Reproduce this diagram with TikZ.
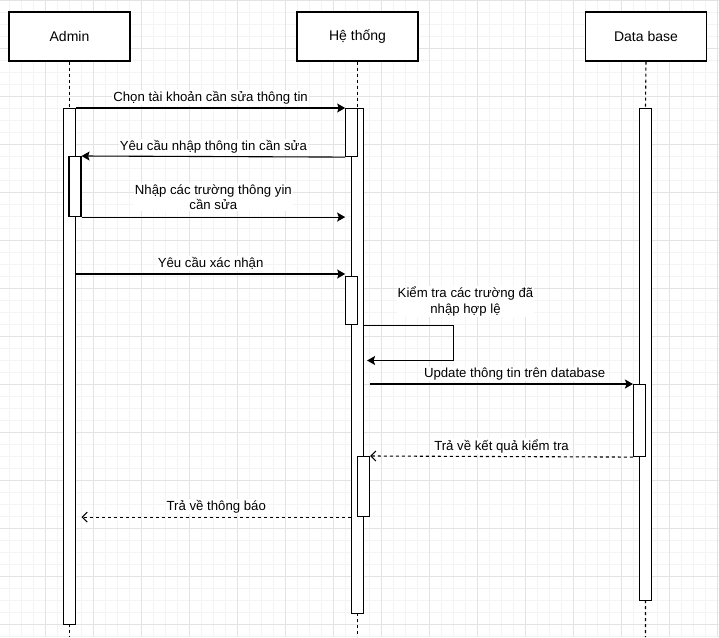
\documentclass[tikz,border=0pt]{standalone}
\usepackage{fontspec}
\setmainfont{Liberation Sans}
\usetikzlibrary{arrows.meta}
\definecolor{gridmin}{HTML}{F4F4F4}
\definecolor{gridmaj}{HTML}{E3E3E3}
\begin{document}
\begin{tikzpicture}[x=1pt, y=-1pt, line width=1.1pt,
		actor/.style={draw, fill=white, minimum width=121pt, minimum height=49pt, inner sep=0pt, font=\fontsize{14}{16}\selectfont},
		bar/.style={draw, fill=white, minimum width=12pt, inner sep=0pt, anchor=north},
		msg/.style={-{Stealth[length=8pt,width=9pt,inset=1.5pt]}},
		reply/.style={dash pattern=on 3pt off 3pt, -{Straight Barb[length=5pt,width=10pt]}},
		lbl/.style={fill=white, inner sep=1pt, anchor=base, yshift=6.5pt, font=\fontsize{13.2}{15.5}\selectfont, align=center}]
	\useasboundingbox (0,0) rectangle (719,637);
	% grid
	\begin{scope}[line width=0.8pt]
		\clip (0,0) rectangle (719,637);
		\foreach \x in {-3,9,...,717} \draw[gridmin] (\x,0) -- (\x,637);
		\foreach \y in {0,12,...,636} \draw[gridmin] (0,\y) -- (719,\y);
		\foreach \x in {-3,45,...,717} \draw[gridmaj] (\x,0) -- (\x,637);
		\foreach \y in {0,48,...,624} \draw[gridmaj] (0,\y) -- (719,\y);
	\end{scope}
	% actors
	\node[actor] (admin) at (69.5,36.5) {Admin};
	\node[actor] (hethong) at (357.5,36.5) {Hệ thống};
	\node[actor] (db) at (646,36.5) {Data base};
	\coordinate (endA) at (69.5,637);
	\coordinate (endH) at (357.5,637);
	\coordinate (endD) at (645.5,637);
	\coordinate (loopR) at (453.5,360.5);
	% lifelines
	\draw[dashed] (admin.south) -- (69.5,108) (69.5,624) -- (endA);
	\draw[dashed] (hethong.south) -- (357.5,108) (357.5,613) -- (endH);
	\draw[dashed] (db.south) -- (645.5,108) (645.5,600) -- (endD);
	% activation bars
	\node[bar, minimum height=516pt] (bA) at (69.5,108) {};
	\node[bar, minimum height=60pt] (sA) at (75,156) {};
	\node[bar, minimum height=505pt] (bH) at (357.5,108) {};
	\node[bar, minimum height=48pt] (sH1) at (351.7,108) {};
	\node[bar, minimum height=48pt] (sH2) at (351.7,276) {};
	\node[bar, minimum height=60pt] (sH3) at (363.5,456) {};
	\node[bar, minimum height=492pt] (bD) at (645.5,108) {};
	\node[bar, minimum height=72pt] (sD) at (639.5,384) {};
	% messages
	\draw[msg] (bA.north east) -- node[lbl] {Chọn tài khoản cần sửa thông tin} (sH1.north west);
	\draw[msg] (sH1.south west) -- node[lbl] {Yêu cầu nhập thông tin cần sửa} (sA.north east);
	\draw[msg] (sA.south east) -- node[lbl, yshift=1pt] {Nhập các trường thông yin\\cần sửa} (sA.south east -| sH1.west);
	\draw[msg] ([yshift=2pt]bA.east |- sH2.north) -- node[lbl] {Yêu cầu xác nhận} ([yshift=2pt]sH2.north west);
	\draw[msg] (bH.east |- sH2.south) -| (loopR) -- ([xshift=3pt]bH.east |- loopR);
	\node[lbl, anchor=center, yshift=0pt] (chk) at (465.5,308) {Kiểm tra các trường đã\\nhập hợp lệ};
	\draw[msg] ([xshift=6pt]bH.east |- sD.north) -- node[lbl, pos=.55] {Update thông tin trên database} (sD.north west);
	\draw[reply] (sD.south west) -- node[lbl] {Trả về kết quả kiểm tra} (sH3.north east);
	\draw[reply] (bH.west |- sH3.south) -- node[lbl] {Trả về thông báo} (sA.east |- sH3.south);
\end{tikzpicture}
\end{document}
